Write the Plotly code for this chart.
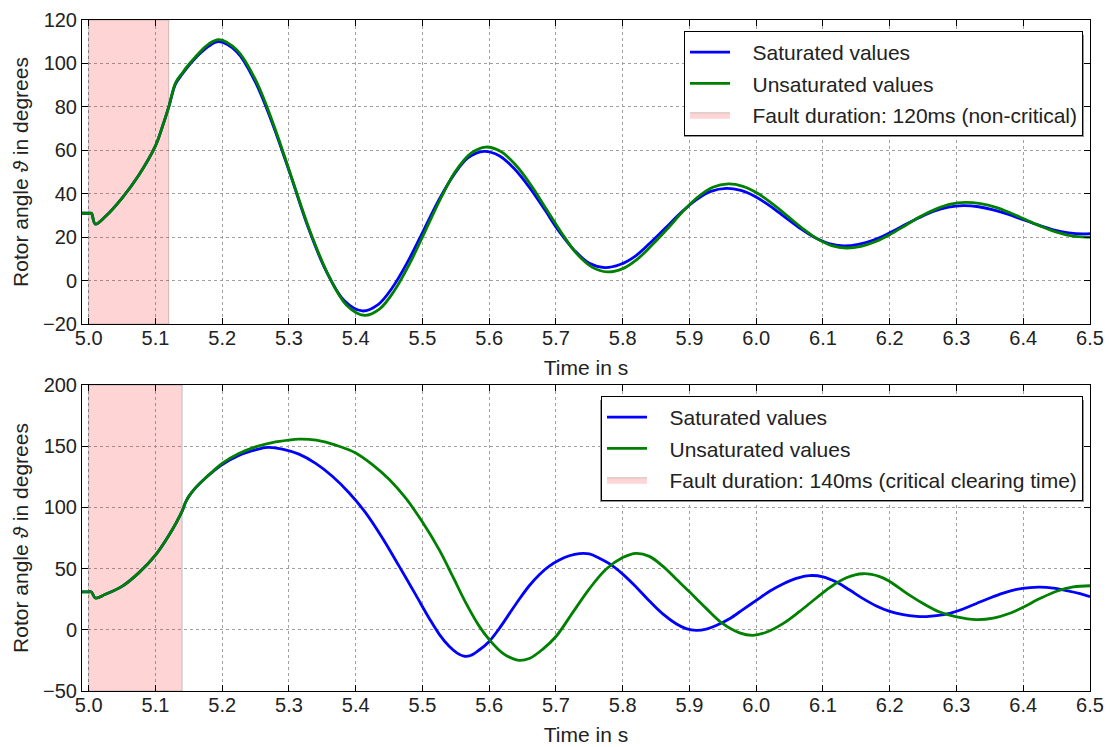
import plotly.graph_objects as go

# ---------------- data ----------------
t_top_sat = [4.99, 5.0, 5.004, 5.01, 5.025, 5.05, 5.075, 5.1, 5.11, 5.12, 5.13, 5.14, 5.15, 5.16,
             5.17, 5.18, 5.195, 5.222, 5.249, 5.276, 5.303, 5.329, 5.356, 5.383, 5.41, 5.433,
             5.455, 5.478, 5.501, 5.524, 5.547, 5.569, 5.592, 5.615, 5.637, 5.66, 5.683, 5.705,
             5.728, 5.75, 5.773, 5.796, 5.819, 5.841, 5.864, 5.887, 5.91, 5.932, 5.955, 5.977,
             5.999, 6.021, 6.043, 6.065, 6.087, 6.109, 6.131, 6.153, 6.176, 6.198, 6.22, 6.243,
             6.265, 6.288, 6.31, 6.333, 6.355, 6.378, 6.4, 6.423, 6.445, 6.468, 6.49, 6.5]
v_top_sat = [31, 31, 31, 26, 29.5, 38, 48.5, 62, 70.5, 80, 90.5, 95, 99, 102.5,
             105.5, 108, 110, 105.3, 91.8, 71.7, 48, 24.3, 4.2, -9.3, -14, -11.2,
             -3.2, 8.7, 22.7, 36.8, 48.7, 56.7, 59.5, 57.5, 51.7, 43, 32.7, 22.5,
             13.8, 8, 6, 7.4, 11.3, 17.3, 24.2, 31.2, 37.2, 41.1, 42.5, 41.5,
             38.6, 34.3, 29.2, 24.2, 19.9, 17, 16, 16.7, 18.7, 21.7, 25.2, 28.8,
             31.8, 33.8, 34.5, 34, 32.6, 30.5, 28, 25.5, 23.4, 22, 21.5, 21.6]

t_top_unsat = [4.99, 5.0, 5.004, 5.01, 5.025, 5.05, 5.075, 5.1, 5.11, 5.12, 5.13, 5.14, 5.15, 5.16,
               5.17, 5.18, 5.195, 5.222, 5.25, 5.277, 5.304, 5.331, 5.359, 5.386, 5.413, 5.436,
               5.458, 5.481, 5.504, 5.527, 5.549, 5.572, 5.595, 5.618, 5.64, 5.663, 5.686, 5.709,
               5.731, 5.754, 5.777, 5.8, 5.822, 5.845, 5.868, 5.89, 5.913, 5.935, 5.958, 5.98,
               6.002, 6.024, 6.047, 6.069, 6.091, 6.113, 6.135, 6.157, 6.18, 6.202, 6.224, 6.246,
               6.269, 6.291, 6.313, 6.336, 6.359, 6.381, 6.404, 6.427, 6.45, 6.472, 6.495, 6.5]
v_top_unsat = [31, 31, 31, 26, 29.5, 38, 48.5, 62, 70.5, 80, 91, 95.5, 99.5, 103,
               106.3, 109, 111, 106.2, 92.4, 71.8, 47.5, 23.2, 2.6, -11.2, -16, -13,
               -4.6, 7.9, 22.7, 37.6, 50.1, 58.5, 61.5, 59.3, 53.1, 43.8, 32.7, 21.7,
               12.4, 6.2, 4, 5.5, 9.9, 16.7, 24.2, 31.8, 38.6, 43, 44.5, 43.4,
               40.2, 35.4, 29.7, 24.1, 19.3, 16.1, 15, 15.8, 18.1, 21.5, 25.5, 29.5,
               32.9, 35.2, 36, 35.4, 33.7, 31.1, 28, 24.9, 22.3, 20.6, 20, 20]

t_bot_sat = [4.99, 5.0, 5.004, 5.01, 5.025, 5.05, 5.075, 5.1, 5.12, 5.14, 5.145, 5.15, 5.16, 5.175,
             5.2, 5.225, 5.25, 5.268, 5.29, 5.315, 5.34, 5.365, 5.39, 5.415, 5.44, 5.465, 5.49,
             5.51, 5.525, 5.54, 5.552, 5.562, 5.572, 5.585, 5.6, 5.615, 5.63, 5.645, 5.66, 5.675,
             5.69, 5.705, 5.72, 5.735, 5.75, 5.765, 5.78, 5.8, 5.82, 5.84, 5.86, 5.88, 5.895,
             5.91, 5.925, 5.94, 5.96, 5.98, 6.0, 6.02, 6.04, 6.06, 6.08, 6.1, 6.12, 6.14, 6.16,
             6.18, 6.2, 6.22, 6.24, 6.255, 6.27, 6.29, 6.31, 6.33, 6.35, 6.37, 6.39, 6.41, 6.425,
             6.445, 6.465, 6.485, 6.5]
v_bot_sat = [31, 31, 31, 26, 29, 35.5, 46.5, 61, 77, 97, 104, 109, 116, 124,
             135, 142.5, 147, 149, 147.7, 143.5, 136, 125.5, 112, 95.5, 75, 52, 28.5,
             9.5, -3.5, -13.5, -19, -21.5, -21, -16.5, -9.5, 1, 13, 25, 36, 45,
             52, 57, 60.5, 62.3, 62, 58.5, 54, 45.5, 35, 23.5, 13, 5, 1,
             -0.5, 0.5, 3.5, 9, 16.5, 24, 31.5, 37.5, 42, 44.3, 43.3, 39, 32.5, 25.5,
             19.5, 15, 12.3, 11, 10.8, 11.5, 13.5, 17, 21.5, 26, 30, 33, 34.5, 34.8,
             34, 32, 29.5, 27]

t_bot_unsat = [4.99, 5.0, 5.004, 5.01, 5.025, 5.05, 5.075, 5.1, 5.12, 5.14, 5.145, 5.15, 5.16, 5.175,
               5.2, 5.225, 5.25, 5.275, 5.3, 5.315, 5.33, 5.35, 5.375, 5.4, 5.425, 5.45, 5.475,
               5.5, 5.525, 5.545, 5.565, 5.585, 5.6, 5.62, 5.635, 5.645, 5.66, 5.68, 5.7, 5.725,
               5.75, 5.775, 5.8, 5.82, 5.84, 5.86, 5.88, 5.9, 5.925, 5.95, 5.975, 5.995, 6.015,
               6.04, 6.065, 6.09, 6.11, 6.135, 6.16, 6.185, 6.2, 6.225, 6.25, 6.275, 6.3, 6.33,
               6.355, 6.38, 6.4, 6.425, 6.45, 6.475, 6.5]
v_bot_unsat = [31, 31, 31, 26, 29, 35.5, 46.5, 61, 77, 97, 104, 109, 116, 124,
               136, 144, 149.5, 153, 155, 155.7, 155.5, 154, 150, 144.5, 135, 123, 107.5,
               88, 65.5, 44, 22, 3, -8, -19, -23.5, -25, -23.5, -16, -5.5, 14,
               33.5, 49.5, 59, 62.5, 60, 52, 41.5, 31, 17.5, 5, -2.5, -4.5, -2,
               5, 15, 26, 34.5, 42.5, 45.8, 43.5, 39.5, 30, 21.5, 14.5, 10.5, 8.3,
               9.5, 13.5, 18.5, 25.5, 31.5, 35, 36]

fault_start = 5.0
fault_durations_ms = [120, 140]
fault_labels = ["Fault duration: 120ms (non-critical)",
                "Fault duration: 140ms (critical clearing time)"]
series_names = ["Saturated values", "Unsaturated values"]
x_range = [4.99, 6.5]
y_ranges = [[-20, 120], [-50, 200]]
y_dticks = [20, 50]
x_title = "Time in s"
y_title = "Rotor angle <i>ϑ</i> in degrees"

# ---------------- figure ----------------
W, H = 1110, 747
ml, mr, mt, mb = 82, 20, 20, 56
ph = H - mt - mb
pw = W - ml - mr
FONT = "Liberation Sans, Arial, sans-serif"
PAD = "\u00a0\u00a0\u00a0"


def py(pix):  # pixel row -> paper y
    return (H - mb - pix) / ph


def px(pix):
    return (pix - ml) / pw


fig = go.Figure()
panels = [
    (t_top_sat, v_top_sat, t_top_unsat, v_top_unsat),
    (t_bot_sat, v_bot_sat, t_bot_unsat, v_bot_unsat),
]
legend_names = ["legend", "legend2"]
for i, (ts, vs, tu, vu) in enumerate(panels):
    xa = "x" if i == 0 else "x2"
    ya = "y" if i == 0 else "y2"
    lg = legend_names[i]
    t1 = fault_start + fault_durations_ms[i] / 1000.0
    y0, y1 = y_ranges[i]
    fig.add_trace(go.Scatter(
        x=[fault_start, t1, t1, fault_start, fault_start], y=[y0, y0, y1, y1, y0],
        fill="toself", fillcolor="rgba(255,0,0,0.17)", mode="lines",
        line=dict(color="rgba(0,0,0,0.2)", width=1), name=PAD + fault_labels[i],
        xaxis=xa, yaxis=ya, legend=lg, legendrank=3, legendgroup=f"f{i}", hoverinfo="skip"))
    fig.add_trace(go.Scatter(
        x=ts, y=vs, mode="lines", line=dict(color="#0000ff", width=2.8, shape="spline", smoothing=1),
        name=PAD + series_names[0], xaxis=xa, yaxis=ya, legend=lg, legendrank=1, legendgroup=f"s{i}"))
    fig.add_trace(go.Scatter(
        x=tu, y=vu, mode="lines", line=dict(color="#008000", width=2.8, shape="spline", smoothing=1),
        name=PAD + series_names[1], xaxis=xa, yaxis=ya, legend=lg, legendrank=2, legendgroup=f"u{i}"))

axis_common = dict(
    showline=True, linecolor="black", linewidth=1, mirror="allticks",
    ticks="inside", ticklen=6, tickcolor="black", tickwidth=1,
    showgrid=True, gridcolor="#a0a0a0", griddash="3px,3px", gridwidth=1,
    zeroline=False, tickfont=dict(size=20, color="#222", family=FONT),
)

top_dom = [py(324), py(20)]
bot_dom = [py(691), py(385)]
title_font = dict(size=21, family=FONT, color="#222")
xaxis_extra = dict(domain=[0, 1], range=x_range, dtick=0.1, tick0=5.0, tickformat=".1f",
                   ticklabelstandoff=-4, automargin=False,
                   title=dict(text=x_title, standoff=12, font=title_font))

fig.update_layout(
    width=W, height=H,
    margin=dict(l=ml, r=mr, t=mt, b=mb),
    paper_bgcolor="white", plot_bgcolor="white",
    font=dict(family=FONT, size=21, color="#222"),
    showlegend=True,
    xaxis=dict(axis_common, anchor="y", **xaxis_extra),
    yaxis=dict(axis_common, domain=top_dom, anchor="x", range=y_ranges[0], dtick=y_dticks[0],
               automargin=False, title=dict(text=y_title, standoff=8, font=title_font)),
    xaxis2=dict(axis_common, anchor="y2", **xaxis_extra),
    yaxis2=dict(axis_common, domain=bot_dom, anchor="x2", range=y_ranges[1], dtick=y_dticks[1],
                automargin=False, title=dict(text=y_title, standoff=8, font=title_font)),
    legend=dict(x=px(1083), xanchor="right", y=py(31), yanchor="top",
                bordercolor="black", borderwidth=1, bgcolor="white",
                font=dict(size=21, family=FONT, color="#222"), traceorder="grouped",
                tracegroupgap=1, itemwidth=40),
    legend2=dict(x=px(1083), xanchor="right", y=py(396), yanchor="top",
                 bordercolor="black", borderwidth=1, bgcolor="white",
                 font=dict(size=21, family=FONT, color="#222"), traceorder="grouped",
                 tracegroupgap=1, itemwidth=40),
)

# legend drop shadows (boxes matching the legend frames, offset by 3 px)
shadows = [(681, 32, 1081, 134), (597, 397, 1081, 499)]
for (x0, y0, x1, y1) in shadows:
    fig.add_shape(type="rect", xref="paper", yref="paper",
                  x0=px(x0 + 3), x1=px(x1 + 3), y0=py(y1 + 3), y1=py(y0 + 3),
                  fillcolor="#959595", line=dict(width=0), layer="above")

fig.write_html("out.html")
